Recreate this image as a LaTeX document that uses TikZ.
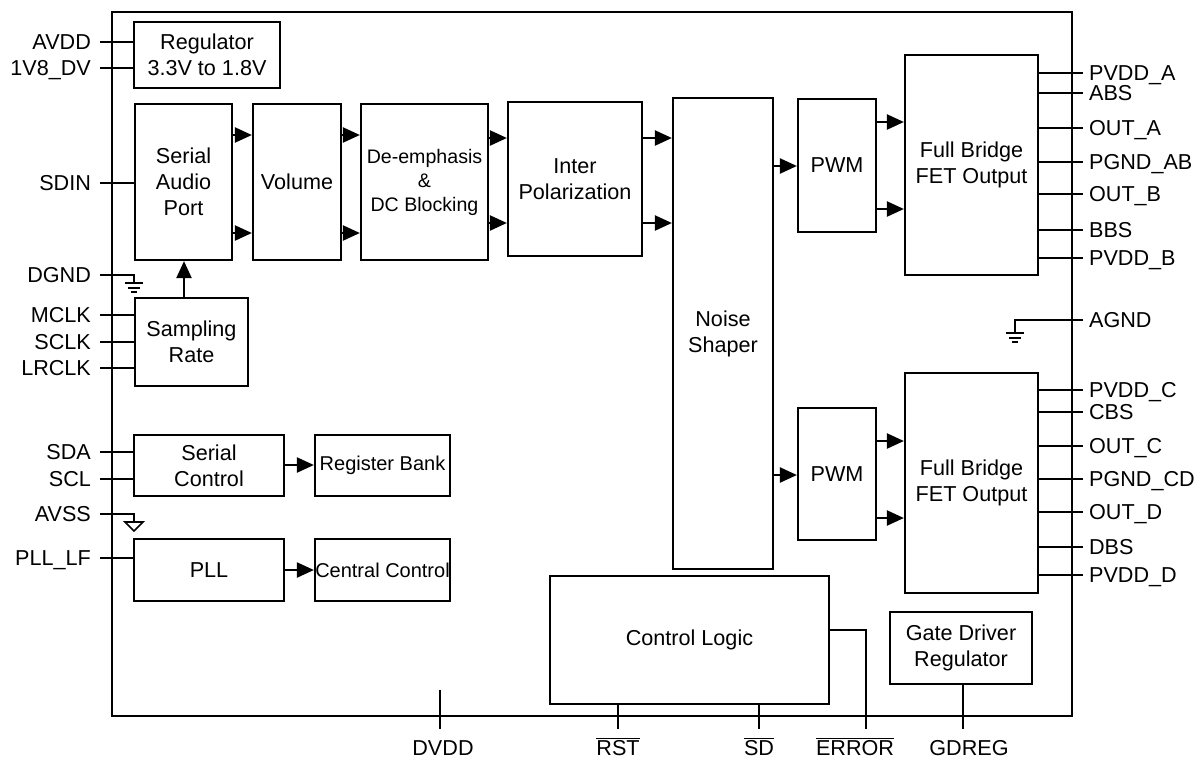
\documentclass[tikz,border=0pt]{standalone}
\usepackage{fontspec}
\setmainfont{Liberation Sans}
\usetikzlibrary{arrows.meta}
\newcommand\fsz{\fontsize{10.8}{13}\selectfont}
\newcommand\fsm{\fontsize{9.8}{12}\selectfont}
\newcommand\fsc{\fontsize{10}{12}\selectfont}
\newcommand\blkbox[7][]{\node[blk,#1, minimum width={(#5-#3)*0.5pt}, minimum height={(#6-#4)*0.5pt}] (#2) at ({(#3+#5)/2},{(#4+#6)/2}) {#7};}
\begin{document}
\begin{tikzpicture}[x=0.5pt,y=-0.5pt, line width=1.1pt,
  blk/.style={draw, line width=1.1pt, inner sep=0pt, align=center, font=\fsz},
  lbl/.style={inner sep=0pt, font=\fsz, text height=7.8pt, text depth=0pt},
  arr/.style={-{Triangle[length=8.5pt,width=7.5pt]}},
  gnd/.style={line width=0.8pt}]
\useasboundingbox (0,0) rectangle (1204,762);
% chip outline
\blkbox{chip}{112}{12}{1072}{716}{}
% blocks
\blkbox{reg}{134}{22}{280}{88}{Regulator\\3.3V to 1.8V}
\blkbox{sap}{135}{104}{232}{260}{Serial\\Audio\\Port}
\blkbox{vol}{253}{104}{341}{260}{Volume}
\blkbox[font=\fsm]{deemph}{361}{104}{488}{260}{De-emphasis\\\&\\DC Blocking}
\blkbox{inter}{508}{102}{642}{256}{Inter\\Polarization}
\blkbox{ns}{673}{98}{773}{569}{Noise\\Shaper}
\blkbox{pwma}{798}{99}{876}{232}{PWM}
\blkbox{fba}{905}{55}{1038}{275}{Full Bridge\\FET Output}
\blkbox{pwmb}{798}{408}{876}{540}{PWM}
\blkbox{fbb}{905}{373}{1038}{593}{Full Bridge\\FET Output}
\blkbox{samp}{135}{298}{248}{386}{Sampling\\Rate}
\blkbox{sc}{134}{435}{284}{496}{Serial\\Control}
\blkbox[font=\fsc]{rb}{315}{435}{450}{496}{Register Bank}
\blkbox{pll}{134}{539}{284}{601}{PLL}
\blkbox[font=\fsc]{cc}{315}{539}{450}{601}{Central Control}
\blkbox{cl}{550}{576}{829}{704}{Control Logic}
\blkbox{gdr}{890}{612}{1032}{684}{Gate Driver\\Regulator}
% data path arrows
\foreach \y in {135,233} {
  \draw[arr] (sap.east |- 0,\y) -- (vol.west |- 0,\y);
  \draw[arr] (vol.east |- 0,\y) -- (deemph.west |- 0,\y);
}
\foreach \y in {138,223} {
  \draw[arr] (deemph.east |- 0,\y) -- (inter.west |- 0,\y);
  \draw[arr] (inter.east |- 0,\y) -- (ns.west |- 0,\y);
}
\draw[arr] (ns.east |- 0,166) -- (pwma.west |- 0,166);
\draw[arr] (ns.east |- 0,475) -- (pwmb.west |- 0,475);
\foreach \y in {122,209} \draw[arr] (pwma.east |- 0,\y) -- (fba.west |- 0,\y);
\foreach \y in {441,518} \draw[arr] (pwmb.east |- 0,\y) -- (fbb.west |- 0,\y);
\draw[arr] (samp.north -| 184,0) -- (sap.south -| 184,0);
\draw[arr] (sc.east |- 0,465) -- (rb.west |- 0,465);
\draw[arr] (pll.east |- 0,570) -- (cc.west |- 0,570);
% left pins
\foreach \n/\t/\y/\b in {avdd/AVDD/42/reg, vdv/1V8\_DV/68/reg, sdin/SDIN/183/sap,
   mclk/MCLK/315/samp, sclk/SCLK/342/samp, lrclk/LRCLK/368/samp,
   sda/SDA/452/sc, scl/SCL/479/sc, plllf/PLL\_LF/558/pll} {
  \node[lbl, anchor=east] (\n) at (92,\y) {\t};
  \draw ([xshift=4pt]\n.east) -- (\n -| \b.west);
}
% DGND
\node[lbl, anchor=east] (dgnd) at (92,275) {DGND};
\coordinate (dg) at (134,283);
\draw[gnd] ([xshift=4pt]dgnd.east) -| (dg);
\draw[gnd] (dg) ++(-9,0) -- ++(18,0);
\draw[gnd] (dg) ++(-6,5) -- ++(12,0);
\draw[gnd] (dg) ++(-3,9) -- ++(6,0);
% AVSS
\node[lbl, anchor=east] (avss) at (92,514) {AVSS};
\coordinate (av) at (134,522);
\draw[gnd] ([xshift=4pt]avss.east) -| (av);
\draw[gnd] (av) ++(-9,0) -- ++(18,0) -- ++(-9,9) -- cycle;
% right pins
\foreach \n/\t/\y/\b in {pvdda/PVDD\_A/73/fba, abs/ABS/93/fba, outa/OUT\_A/128/fba,
   pgndab/PGND\_AB/162/fba, outb/OUT\_B/194/fba, bbs/BBS/230/fba, pvddb/PVDD\_B/258/fba,
   pvddc/PVDD\_C/390/fbb, cbs/CBS/412/fbb, outc/OUT\_C/446/fbb, pgndcd/PGND\_CD/479/fbb,
   outd/OUT\_D/512/fbb, dbs/DBS/547/fbb, pvddd/PVDD\_D/575/fbb} {
  \node[lbl, anchor=west] (\n) at (1088,\y) {\t};
  \draw (\n -| \b.east) -- ([xshift=-2.5pt]\n.west);
}
% AGND
\node[lbl, anchor=west] (agnd) at (1088,320) {AGND};
\coordinate (ag) at (1015,333);
\draw[gnd] ([xshift=-2.5pt]agnd.west) -| (ag);
\draw[gnd] (ag) ++(-9,0) -- ++(18,0);
\draw[gnd] (ag) ++(-6,5) -- ++(12,0);
\draw[gnd] (ag) ++(-3,9) -- ++(6,0);
% bottom pins
\node[lbl] (dvdd) at (443,748) {DVDD};
\node[lbl] (rst) at (618,748) {$\overline{\mbox{RST}}$};
\node[lbl] (sd) at (759,748) {$\overline{\mbox{SD}}$};
\node[lbl] (err) at (855,748) {$\overline{\mbox{ERROR}}$};
\node[lbl] (gdreg) at (969,748) {GDREG};
\coordinate (dvddin) at (440,690);
\draw (dvddin) -- ([yshift=5pt]dvddin |- dvdd.north);
\draw (cl.south -| rst) -- ([yshift=5pt]rst.north);
\draw (cl.south -| sd) -- ([yshift=5pt]sd.north);
\coordinate (errx) at (866,630);
\draw (cl.east |- errx) -- (errx) -- ([yshift=5pt]errx |- err.north);
\coordinate (gdx) at (963,0);
\draw (gdr.south -| gdx) -- ([yshift=5pt]gdx |- gdreg.north);
\end{tikzpicture}
\end{document}
